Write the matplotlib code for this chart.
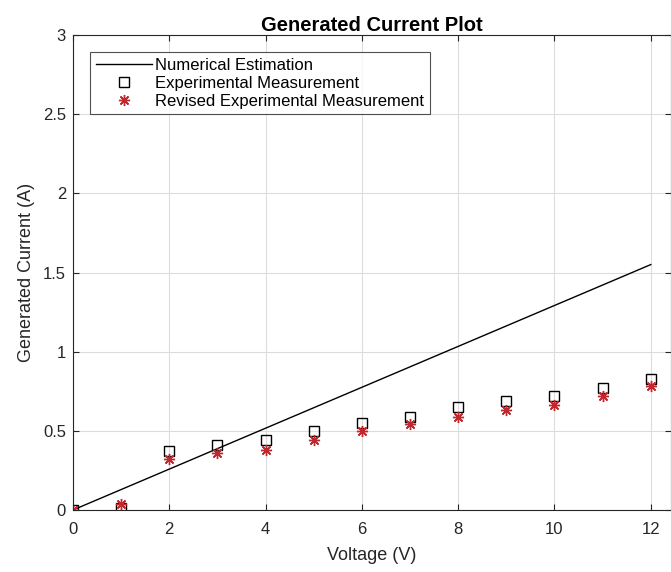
import numpy as np
import matplotlib.pyplot as plt

plt.rcParams['font.family'] = ['Liberation Sans', 'DejaVu Sans']

# data
voltage = [0, 1, 2, 3, 4, 5, 6, 7, 8, 9, 10, 11, 12]
experimental = [0.0, 0.01, 0.37, 0.41, 0.44, 0.50, 0.55, 0.59, 0.65, 0.69, 0.72, 0.77, 0.83]
revised = [0.0, 0.04, 0.32, 0.36, 0.38, 0.44, 0.50, 0.54, 0.59, 0.63, 0.66, 0.72, 0.78]
numerical_v = [0, 12]
numerical_i = [0.0, 1.55]

fig = plt.figure(figsize=(6.71, 5.72), dpi=100)
ax = fig.add_axes([0.1088, 0.1084, 0.8912, 0.8304])

ax.plot(numerical_v, numerical_i, color='black', lw=1.0, label='Numerical Estimation')
ax.plot(voltage, experimental, ls='none', marker='s', ms=6.5, mfc='none', mec='black',
        mew=1.0, label='Experimental Measurement')
# MATLAB-style asterisk (+ and x combined)
ax.plot(voltage, revised, ls='none', marker=(8, 2, 0), ms=8, color='#c0282d',
        mew=1.0, label='Revised Experimental Measurement')

ax.set_xlim(0, 12.42)
ax.set_ylim(0, 3)
ax.set_xticks([0, 2, 4, 6, 8, 10, 12])
ax.set_yticks([0, 0.5, 1, 1.5, 2, 2.5, 3])
ax.set_yticklabels(['0', '0.5', '1', '1.5', '2', '2.5', '3'])
ax.grid(True, color='#dcdcdc', lw=0.8)
ax.set_axisbelow(True)
ax.tick_params(direction='in', top=True, right=True, labelsize=12,
               colors='#262626', length=4, pad=5)
ax.tick_params(axis='x', pad=9)
for s in ax.spines.values():
    s.set_color('#262626')
    s.set_linewidth(0.8)

ax.set_xlabel('Voltage (V)', fontsize=13, color='#262626', labelpad=7)
ax.set_ylabel('Generated Current (A)', fontsize=13, color='#262626', labelpad=6)
ax.set_title('Generated Current Plot', fontsize=14.5, fontweight='bold', pad=3)

leg = ax.legend(loc='upper left', fontsize=12, handlelength=3.4, frameon=True,
                fancybox=False, edgecolor='#262626', borderpad=0.35,
                labelspacing=0.17, handletextpad=0.15, borderaxespad=0,
                bbox_to_anchor=(0.028, 0.964))
leg.get_frame().set_linewidth(0.8)

plt.savefig('out.png', dpi=100)
